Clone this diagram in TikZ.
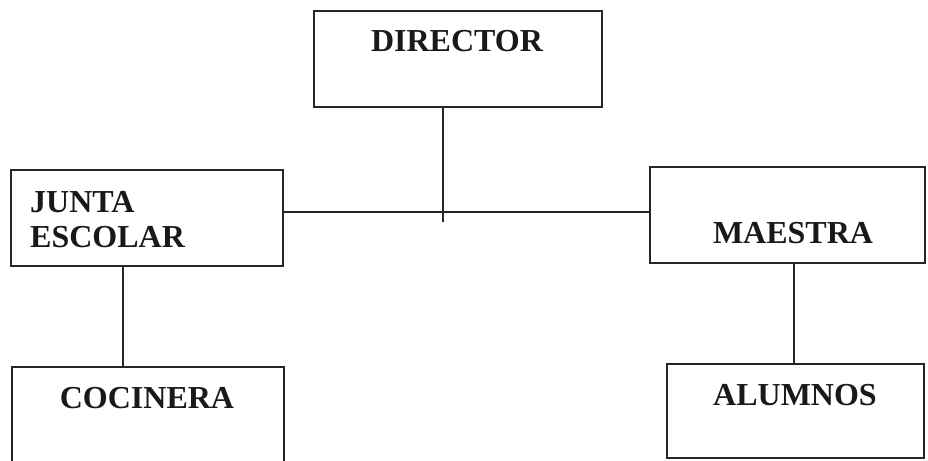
\documentclass[tikz,border=0pt]{standalone}
\usepackage{fontspec}
\setmainfont{Liberation Serif}
\begin{document}
\begin{tikzpicture}[x=1pt,y=-1pt,
  box/.style={draw=black!85,line width=1.3pt,rectangle,inner sep=0pt},
  lbl/.style={font=\fontsize{32}{36}\selectfont\bfseries,text=black!90,inner sep=0pt,anchor=base},
  conn/.style={draw=black!85,line width=1.2pt}]
\useasboundingbox (0,0) rectangle (928,460);
\clip (0,0) rectangle (928,460);
\node[box,minimum width=288pt,minimum height=96pt] (dir) at (458,59) {};
\node[box,minimum width=272pt,minimum height=96pt] (junta) at (147,218) {};
\node[box,minimum width=275pt,minimum height=96pt] (maestra) at (787.5,215) {};
\node[box,minimum width=272pt,minimum height=112pt] (cocinera) at (148,423) {};
\node[box,minimum width=257pt,minimum height=94pt] (alumnos) at (795.5,411) {};
\node[lbl] (tdir) at (457,52) {DIRECTOR};
\node[lbl,anchor=base west] (tjunta) at (30,212) {JUNTA};
\node[lbl,anchor=base west] (tescolar) at (30,247) {ESCOLAR};
\node[lbl] (tmaestra) at (793,243) {MAESTRA};
\node[lbl] (tcocinera) at (147,408) {COCINERA};
\node[lbl] (talumnos) at (795,405) {ALUMNOS};
\coordinate (hub) at (443,212);
\coordinate (hubend) at (443,222);
\draw[conn] (dir.south -| hub) -- (hubend);
\draw[conn] (junta.east |- hub) -- (maestra.west |- hub);
\draw[conn] (junta.south -| 123,0) -- (cocinera.north -| 123,0);
\draw[conn] (maestra.south -| 794,0) -- (alumnos.north -| 794,0);
\end{tikzpicture}
\end{document}
